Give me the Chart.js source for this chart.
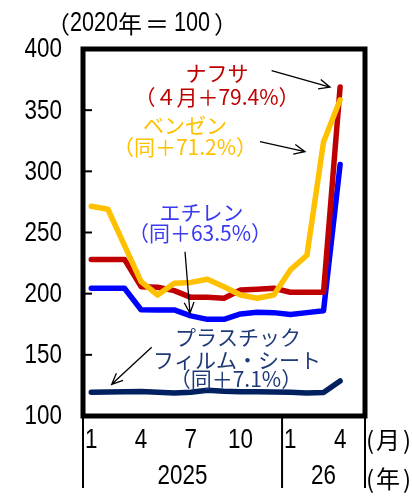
<!DOCTYPE html>
<html>
<head>
<meta charset="utf-8">
<script src="https://cdn.jsdelivr.net/npm/chart.js@4/dist/chart.umd.min.js"></script>
<style>
  html, body { margin: 0; padding: 0; background: #fff; }
  canvas { display: block; }
</style>
</head>
<body>
<canvas id="chart" width="412" height="502"></canvas>
<script>
// Months from Jan 2025 to May 2026 (May 2026 has no data yet)
const monthLabels = ['1','2','3','4','5','6','7','8','9','10','11','12','1','2','3','4','5'];
const shownMonthIdx = [0, 3, 6, 9, 12, 15];
const yearLabels = ['2025', '26'];
const yearFirstIdx = [0, 12];

// Price indices (2020 = 100)
const naphtha  = [228, 228, 228, 205.7, 205.3, 202.5, 197, 197, 196.3, 203, 203.6, 204.4, 201.2, 201.2, 201.2, 369];
const benzene  = [271.5, 269, 239.5, 209.8, 198.9, 208.5, 209.2, 211.8, 205.7, 198.9, 196.2, 198.9, 219.4, 231.4, 324, 358.5];
const ethylene = [204.4, 204.4, 204.4, 186.9, 186.7, 186.7, 181.8, 179, 179, 183.4, 184.8, 184.5, 183, 184.5, 186, 305.6];
const plastic  = [119.4, 119.6, 119.8, 120.1, 119.5, 118.8, 119.5, 121, 120.2, 119.8, 119.8, 119.6, 119.4, 118.8, 119.2, 128.6];

const yMin = 100, yMax = 400, yStep = 50;

// Narrow numerals: a regular sans face squeezed horizontally
const NUM_FONT = "27px 'Liberation Sans', Arial, sans-serif";
const NUM_SQUEEZE = 0.83;
const JP_FAMILY = "'Noto Sans CJK JP', sans-serif";

// Callout labels: text lines, colour, anchors in (category index, value)
const callouts = [
  { lines: ['ナフサ', '（４月＋79.4%）'], color: '#C00000', at: [[7.58, 380.5], [7.58, 360.8]],
    arrow: [[10.87, 382.3], [14.39, 368.8]] },
  { lines: ['ベンゼン', '（同＋71.2%）'], color: '#FFC000', at: [[5.65, 337.9], [5.65, 319.9]],
    arrow: [[10.17, 324.3], [12.88, 316.1]] },
  { lines: ['エチレン', '（同＋63.5%）'], color: '#3A3AF2', at: [[6.65, 267], [6.55, 249.6]],
    arrow: [[5.65, 234.3], [5.95, 184]] },
  { lines: ['プラスチック', 'フィルム・シート', '（同＋7.1%）'], color: '#1F3A78',
    at: [[8.84, 164.8], [8.78, 145.8], [8.72, 130.3]],
    arrow: [[3.64, 156.2], [1.23, 125.9]] }
];

function numText(ctx, text, x, y, align, squeeze) {
  ctx.save();
  ctx.font = NUM_FONT;
  ctx.textAlign = align;
  ctx.textBaseline = 'middle';
  ctx.translate(x, y);
  ctx.scale(squeeze || NUM_SQUEEZE, 1);
  ctx.fillText(text, 0, 0);
  ctx.restore();
}

// draws a row of mixed runs (Japanese / numerals) left to right, returns end x
function drawRuns(ctx, runs, x, y) {
  runs.forEach(r => {
    x += r.gap || 0;
    ctx.save();
    ctx.textAlign = 'left';
    ctx.textBaseline = 'middle';
    if (r.num) {
      ctx.font = NUM_FONT;
      const w = ctx.measureText(r.text).width * r.num;
      ctx.translate(x, y);
      ctx.scale(r.num, 1);
      ctx.fillText(r.text, 0, 0);
      x += w;
    } else {
      ctx.font = r.size + 'px ' + JP_FAMILY;
      ctx.fillText(r.text, x, y);
      x += ctx.measureText(r.text).width;
    }
    ctx.restore();
  });
  return x;
}

function drawArrow(ctx, x1, y1, x2, y2) {
  const ang = Math.atan2(y2 - y1, x2 - x1);
  const head = 12, spread = 0.42;
  ctx.beginPath();
  ctx.moveTo(x1, y1);
  ctx.lineTo(x2, y2);
  ctx.moveTo(x2 - head * Math.cos(ang - spread), y2 - head * Math.sin(ang - spread));
  ctx.lineTo(x2, y2);
  ctx.lineTo(x2 - head * Math.cos(ang + spread), y2 - head * Math.sin(ang + spread));
  ctx.stroke();
}

const decor = {
  id: 'decor',
  afterDatasetsDraw(chart) {
    const { ctx, chartArea: a, scales: { x, y } } = chart;
    ctx.save();

    // plot frame
    ctx.strokeStyle = '#000';
    ctx.lineWidth = 5;
    ctx.strokeRect(a.left, a.top, a.right - a.left, a.bottom - a.top);

    // inward tick marks on the value axis, with their labels
    ctx.lineWidth = 2;
    ctx.fillStyle = '#000';
    y.ticks.forEach(t => {
      const py = y.getPixelForValue(t.value);
      ctx.beginPath();
      ctx.moveTo(a.left, py);
      ctx.lineTo(a.left + 9, py);
      ctx.stroke();
      numText(ctx, String(t.value), a.left - 21, py + 1, 'right');
    });

    // month labels
    shownMonthIdx.forEach(i => {
      numText(ctx, monthLabels[i], x.getPixelForValue(i), a.bottom + 25, 'center');
    });

    // year separators below the axis
    const sep = (x.getPixelForValue(yearFirstIdx[1] - 1) + x.getPixelForValue(yearFirstIdx[1])) / 2;
    const bounds = [a.left, sep, a.right];
    ctx.lineWidth = 2;
    bounds.forEach(bx => {
      ctx.beginPath();
      ctx.moveTo(bx, a.bottom);
      ctx.lineTo(bx, a.bottom + 72);
      ctx.stroke();
    });

    // year labels
    yearLabels.forEach((lab, i) => {
      numText(ctx, lab, (bounds[i] + bounds[i + 1]) / 2, a.bottom + 61, 'center');
    });

    // unit labels
    drawRuns(ctx, [{ text: '(', size: 24 }, { text: '月', size: 24, gap: 2 }, { text: ')', size: 24, gap: 3 }],
      a.right + 1, a.bottom + 24);
    drawRuns(ctx, [{ text: '(', size: 24 }, { text: '年', size: 24, gap: 2 }, { text: ')', size: 24, gap: 3 }],
      a.right + 1, a.bottom + 63);

    // axis caption
    drawRuns(ctx, [
      { text: '（', size: 24 },
      { text: '2020', num: 0.8 },
      { text: '年', size: 24 },
      { text: '＝', size: 24, gap: 3 },
      { text: '100', num: 0.8, gap: 5 },
      { text: '）', size: 24, gap: 4 }
    ], 46, 24);

    // callouts
    ctx.font = '21px ' + JP_FAMILY;
    ctx.textAlign = 'center';
    ctx.textBaseline = 'middle';
    callouts.forEach(c => {
      ctx.fillStyle = c.color;
      c.lines.forEach((t, i) => {
        ctx.fillText(t, x.getPixelForValue(c.at[i][0]), y.getPixelForValue(c.at[i][1]));
      });
      ctx.strokeStyle = '#000';
      ctx.lineWidth = 1.3;
      drawArrow(ctx,
        x.getPixelForValue(c.arrow[0][0]), y.getPixelForValue(c.arrow[0][1]),
        x.getPixelForValue(c.arrow[1][0]), y.getPixelForValue(c.arrow[1][1]));
    });

    ctx.restore();
  }
};

const lineStyle = { borderWidth: 5.5, pointRadius: 0, tension: 0, fill: false,
  borderJoinStyle: 'round', borderCapStyle: 'round' };

new Chart(document.getElementById('chart'), {
  type: 'line',
  data: {
    labels: monthLabels,
    datasets: [
      { label: 'ベンゼン', data: benzene, borderColor: '#FFC000', ...lineStyle },
      { label: 'ナフサ', data: naphtha, borderColor: '#C00000', ...lineStyle },
      { label: 'エチレン', data: ethylene, borderColor: '#0000FF', ...lineStyle },
      { label: 'プラスチックフィルム・シート', data: plastic, borderColor: '#002060', ...lineStyle }
    ]
  },
  options: {
    responsive: false,
    devicePixelRatio: 1,
    animation: false,
    layout: { padding: { top: 49, right: 47, left: 0, bottom: 0 } },
    plugins: { legend: { display: false }, tooltip: { enabled: false } },
    scales: {
      x: {
        type: 'category',
        offset: true,
        grid: { display: false, drawTicks: false },
        border: { display: false },
        ticks: { display: false },
        afterFit: s => { s.height = 86; }
      },
      y: {
        min: yMin, max: yMax,
        grid: { display: false, drawTicks: false },
        border: { display: false },
        ticks: { display: false, stepSize: yStep },
        afterFit: s => { s.width = 83; }
      }
    }
  },
  plugins: [decor]
});
</script>
</body>
</html>
